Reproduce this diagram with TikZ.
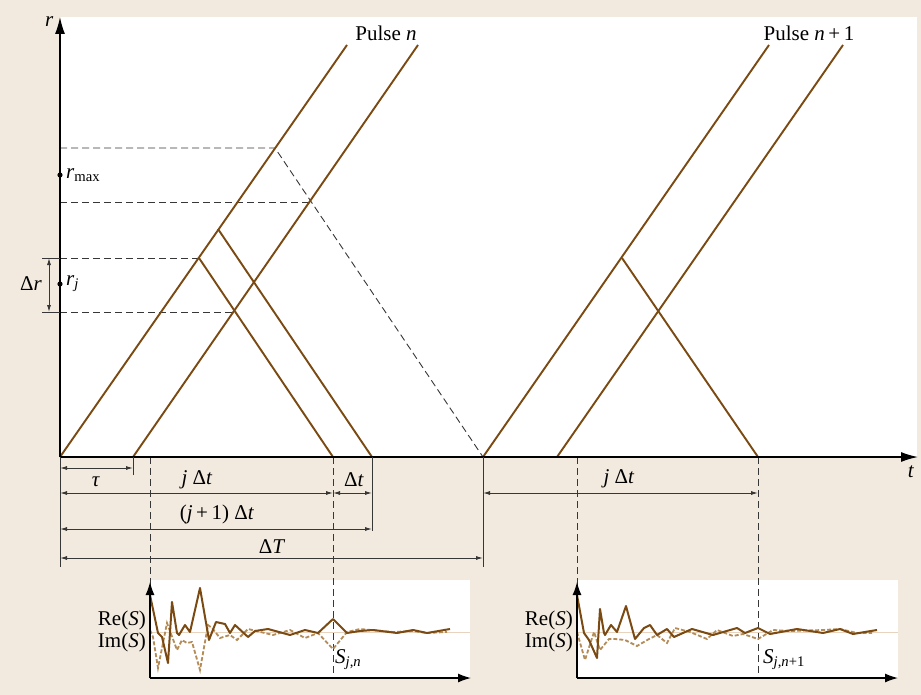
\documentclass[tikz,border=0pt]{standalone}
\usepackage{fontspec}
\setmainfont{Liberation Serif}
\usepackage{xcolor}
\usetikzlibrary{arrows.meta,positioning,calc}
\definecolor{bg}{RGB}{242,234,222}
\definecolor{pulse}{RGB}{122,74,18}
\definecolor{imag}{RGB}{180,140,88}
\definecolor{zero}{RGB}{232,212,190}
\definecolor{dim}{RGB}{55,55,55}
\begin{document}
\begin{tikzpicture}[x=1pt,y=-1pt,font=\fontsize{21}{25}\selectfont,inner sep=1pt,ray/.style={pulse,line width=1.9pt},guide/.style={dim,line width=0.9pt,dash pattern=on 7pt off 4pt},dimarr/.style={dim,line width=0.9pt,{Latex[length=7pt,width=4pt]}-{Latex[length=7pt,width=4pt]}},axis/.style={line width=1.4pt,-{Latex[length=17pt,width=10pt]}},saxis/.style={line width=1.3pt,-{Latex[length=13pt,width=9pt]}},re/.style={pulse,line width=2pt,line join=round},im/.style={imag,line width=1.8pt,dash pattern=on 4pt off 2pt}]
\useasboundingbox (0,0) rectangle (921,695);
\fill[bg] (0,0) rectangle (921,695);
\fill[white] (60,17) rectangle (917,457);
\fill[white] (150,580) rectangle (470,678);
\fill[white] (577,580) rectangle (898,678);
% key points
\coordinate (O) at (60,457);
\coordinate (na) at (60,457);
\coordinate (nb) at (133,457);
\coordinate (ma) at (483,457);
\coordinate (mb) at (557,457);
\coordinate (rj1) at (199,258);
\coordinate (rj2) at (218,229);
\coordinate (rm1) at (275,148);
\coordinate (rm2) at (311,202);
\coordinate (lo) at (235,312);
\coordinate (rk) at (622,258);
% guide lines
\draw[guide] (60,148) -- (rm1) -- (ma);
\draw[guide] (60,202) -- (rm2);
\draw[guide] (60,258) -- (rj1);
\draw[guide] (60,312) -- (lo);
\draw[guide] (150,457) -- (150,585);
\draw[guide] (333,457) -- (333,678);
\draw[guide] (577,457) -- (577,585);
\draw[guide] (758,457) -- (758,678);
% pulses
\draw[ray] (na) -- (347,45);
\draw[ray] (nb) -- (418,45);
\draw[ray] (rj1) -- (333,457);
\draw[ray] (rj2) -- (372,457);
\draw[ray] (ma) -- (769,45);
\draw[ray] (mb) -- (843,45);
\draw[ray] (rk) -- (758,457);
\node (pn) at (386,33) {Pulse \textit{n}};
\node (pm) at (809,33) {Pulse \textit{n}\,+\,1};
% axes
\draw[axis] (O) -- (60,17) node[left=5pt,pos=0.99] (rlab) {\textit{r}};
\draw[axis] (O) -- (918,457);
\node (tlab) at (911,472) {\textit{t}};
\fill (60,175) circle (2.6pt) node[right=5pt] (rmax) {\textit{r}\textsubscript{max}};
\fill (60,284) circle (2.6pt) node[right=5pt] (rjl) {\textit{r\textsubscript{j}}};
\draw[dim,line width=0.9pt] (42,258) -- (60,258) (42,312) -- (60,312);
\draw[dimarr] (49,258) -- (49,312);
\node[left=1pt] (dr) at (44,284) {Δ\textit{r}};
% time spans
\draw[dim,line width=0.9pt] (60,457) -- (60,567) (133,457) -- (133,475) (372,457) -- (372,531) (483,457) -- (483,567);
\draw[dimarr] (60,468) -- (133,468);
\draw[dimarr] (60,493) -- (333,493);
\draw[dimarr] (333,493) -- (372,493);
\draw[dimarr] (60,529) -- (372,529);
\draw[dimarr] (60,558) -- (483,558);
\draw[dimarr] (483,493) -- (758,493);
\node (tau) at (96,482) {\textit{τ}};
\node (jdt) at (197,480) {\textit{j} Δ\textit{t}};
\node (dt) at (354,480) {Δ\textit{t}};
\node (j1dt) at (217,514) {(\textit{j}\,+\,1) Δ\textit{t}};
\node (dT) at (272,547) {Δ\textit{T}};
\node (jdt2) at (619,479) {\textit{j} Δ\textit{t}};
% signals
\draw[zero,line width=1pt] (150,632) -- (470,632);
\draw[zero,line width=1pt] (577,632) -- (898,632);
\draw[im] plot coordinates {(150,630) (153,637) (158,668) (167,623) (177,650) (182,640) (187,643) (192,642) (200,670) (208,625) (212,628) (220,638) (230,635) (237,640) (248,629) (273,635) (290,630) (305,638) (318,633) (333,649) (347,632) (360,629) (393,632) (413,631) (427,633) (447,632)};
\draw[re] plot coordinates {(150,595) (158,633) (162,637) (168,663) (172,602) (177,633) (179,635) (185,625) (190,632) (200,588) (209,640) (216,622) (225,624) (230,633) (235,625) (248,637) (255,631) (268,629) (290,635) (305,630) (318,633) (333,619) (347,633) (360,631) (373,630) (397,633) (413,630) (427,633) (450,629)};
\draw[im] plot coordinates {(577,632) (585,660) (594,632) (600,650) (609,639) (615,639) (625,640) (637,646) (649,639) (657,635) (667,643) (675,628) (690,632) (707,639) (717,630) (733,636) (743,634) (758,639) (773,630) (790,631) (823,630) (840,629) (857,633) (872,633)};
\draw[re] plot coordinates {(577,595) (584,633) (589,640) (597,658) (600,609) (604,633) (605,635) (611,625) (617,632) (626,606) (635,639) (644,628) (650,625) (657,635) (667,629) (674,637) (692,629) (713,635) (737,628) (745,633) (758,628) (770,634) (797,629) (823,633) (840,629) (853,634) (877,630)};
\draw[saxis] (150,678) -- (150,582);
\draw[saxis] (150,678) -- (471,678);
\draw[saxis] (577,678) -- (577,582);
\draw[saxis] (577,678) -- (898,678);
\node[align=right,left] (sig1) at (147,631) {Re(\textit{S})\\[-3pt]Im(\textit{S})};
\node[align=right,left] (sig2) at (574,631) {Re(\textit{S})\\[-3pt]Im(\textit{S})};
\node[right] (s1) at (334,660) {\textit{S}\textsubscript{\textit{j},\textit{n}}};
\node[right] (s2) at (762,660) {\textit{S}\textsubscript{\textit{j},\textit{n}+1}};
\end{tikzpicture}
\end{document}
